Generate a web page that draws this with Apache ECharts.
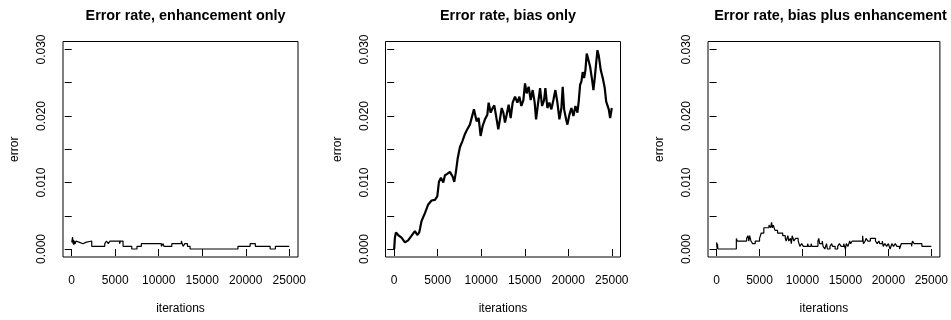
<!DOCTYPE html>
<html>
<head>
<meta charset="utf-8">
<script src="https://cdn.jsdelivr.net/npm/echarts@6/dist/echarts.min.js"></script>
<style>html,body{margin:0;padding:0;background:#fff}#c{width:951px;height:320px}</style>
</head>
<body>
<div id="c"></div>
<script>
const titles = ['Error rate, enhancement only', 'Error rate, bias only', 'Error rate, bias plus enhancement'];
const xTicks = [0, 5000, 10000, 15000, 20000, 25000];
const yTicks = [0, 0.005, 0.010, 0.015, 0.020, 0.025, 0.030];
const yLabels = [0, 0.010, 0.020, 0.030];

const enhIter = [0,100,150,200,250,300,400,500,600,900,1300,1600,1800,2300,3800,4000,4200,4400,5500,5600,5900,6900,7500,8000,10300,10500,10600,11500,12600,12800,13000,13300,13600,19100,20500,21100,22800,23400,25000];
const enhErr  = [0.0010,0.0018,0.0008,0.0014,0.0006,0.0012,0.0008,0.0012,0.0010,0.0008,0.0010,0.0008,0.0012,0.0004,0.0008,0.0012,0.0008,0.0012,0.0008,0.0012,0.0004,0.0000,0.0004,0.0008,0.0004,0.0008,0.0004,0.0008,0.0012,0.0004,0.0008,0.0004,0.0000,0.0004,0.0008,0.0004,0.0000,0.0004,0.0004];

const biasIter = [0,80,200,460,840,1230,1600,2000,2380,2650,2880,3140,3530,3910,4290,4680,4950,5140,5370,5640,5830,6100,6400,6710,6900,7090,7290,7550,7860,8130,8400,8700,8900,9160,9470,9700,9930,10160,10430,10700,10850,11080,11310,11500,11770,11960,12150,12350,12540,12730,12920,13150,13380,13610,13880,14150,14380,14610,14840,15030,15220,15450,15680,15910,16140,16300,16490,16760,16990,17220,17370,17600,17830,18060,18290,18520,18750,18980,19210,19360,19520,19750,19900,20130,20360,20590,20820,21050,21200,21360,21510,21660,21820,21970,22120,22280,22510,22740,22890,23040,23200,23350,23500,23730,23960,24190,24350,24500,24650,24810,25000];
const biasErr  = [0.0000,0.0017,0.0025,0.0021,0.0017,0.0010,0.0013,0.0020,0.0027,0.0021,0.0025,0.0042,0.0054,0.0067,0.0073,0.0074,0.0079,0.0101,0.0107,0.0100,0.0111,0.0113,0.0116,0.0109,0.0101,0.0116,0.0136,0.0153,0.0163,0.0173,0.0180,0.0187,0.0190,0.0210,0.0192,0.0197,0.0170,0.0185,0.0195,0.0202,0.0220,0.0205,0.0212,0.0216,0.0195,0.0180,0.0195,0.0212,0.0205,0.0190,0.0202,0.0217,0.0197,0.0220,0.0229,0.0220,0.0229,0.0215,0.0224,0.0249,0.0234,0.0244,0.0224,0.0239,0.0220,0.0195,0.0215,0.0242,0.0215,0.0224,0.0242,0.0212,0.0220,0.0210,0.0224,0.0239,0.0220,0.0195,0.0212,0.0244,0.0210,0.0195,0.0187,0.0202,0.0212,0.0200,0.0215,0.0205,0.0222,0.0247,0.0252,0.0266,0.0257,0.0269,0.0294,0.0286,0.0274,0.0254,0.0239,0.0257,0.0279,0.0299,0.0291,0.0269,0.0257,0.0242,0.0222,0.0220,0.0210,0.0197,0.0212];

const bothIter = [0,60,100,150,2300,2400,3500,3650,3750,3850,4000,4200,4500,5000,5200,5500,5700,6100,6300,6400,6500,6600,6800,7100,7700,8000,8100,8300,8400,8600,8700,8800,9000,9200,9500,9700,9900,10100,10600,10700,11000,11100,11800,11900,12000,12300,12400,12600,12800,12900,13200,13400,13500,13800,14100,14300,14500,14800,15000,15100,15300,15500,15600,15800,17000,17100,17300,17400,17600,17900,18500,18700,18900,19000,19300,19400,19600,19800,20000,20200,20400,20600,20800,21000,21300,21500,22700,22800,23000,23900,25000];
const bothErr  = [0.0010,0.0000,0.0008,0.0000,0.0016,0.0012,0.0016,0.0020,0.0012,0.0020,0.0012,0.0008,0.0012,0.0016,0.0024,0.0032,0.0032,0.0036,0.0032,0.0040,0.0032,0.0036,0.0028,0.0024,0.0020,0.0016,0.0012,0.0020,0.0012,0.0016,0.0008,0.0020,0.0012,0.0016,0.0012,0.0004,0.0008,0.0004,0.0008,0.0004,0.0008,0.0004,0.0012,0.0016,0.0008,0.0012,0.0004,0.0000,0.0008,0.0000,0.0004,0.0008,0.0004,0.0000,0.0004,0.0008,0.0004,0.0008,0.0000,0.0008,0.0004,0.0012,0.0008,0.0012,0.0020,0.0008,0.0012,0.0016,0.0012,0.0016,0.0012,0.0008,0.0012,0.0008,0.0012,0.0004,0.0008,0.0004,0.0008,0.0000,0.0008,0.0004,0.0008,0.0004,0.0000,0.0008,0.0004,0.0012,0.0008,0.0004,0.0004];

const zip = (a, b) => a.map((v, i) => [v, b[i]]);
const FONT = 'Liberation Sans, Arial, Helvetica, sans-serif';
const lefts = [63, 385.5, 708];
const boxW = 235, boxTop = 41.5, boxH = 218.5;

const chart = echarts.init(document.getElementById('c'), null, {renderer: 'canvas'});
const grids = [], xAxes = [], yAxes = [], tl = [];
lefts.forEach((l, i) => {
  grids.push({left: l, top: boxTop, width: boxW, height: boxH, show: true, borderColor: '#000', borderWidth: 1, backgroundColor: 'transparent'});
  xAxes.push({
    type: 'value', gridIndex: i, min: -1000, max: 26000,
    name: 'iterations', nameLocation: 'middle', nameGap: 46,
    nameTextStyle: {color: '#000', fontSize: 12, fontFamily: FONT},
    axisLine: {show: false},
    axisTick: {show: true, length: 7, customValues: xTicks, lineStyle: {color: '#000'}},
    axisLabel: {customValues: xTicks, color: '#000', fontSize: 12, fontFamily: FONT, margin: 18,
      formatter: v => String(v)},
    splitLine: {show: false}
  });
  yAxes.push({
    type: 'value', gridIndex: i, min: -0.0012, max: 0.0312,
    name: 'error', nameLocation: 'middle', nameGap: 42, nameRotate: 90,
    nameTextStyle: {color: '#000', fontSize: 12, fontFamily: FONT},
    axisLine: {show: false},
    axisTick: {show: true, length: 7, customValues: yTicks, lineStyle: {color: '#000'}},
    axisLabel: {customValues: yLabels, rotate: 90, color: '#000', fontSize: 12, fontFamily: FONT, margin: 15,
      formatter: v => v.toFixed(3)},
    splitLine: {show: false}
  });
  tl.push({text: titles[i], left: l + boxW / 2, top: 4, textAlign: 'center',
    textStyle: {fontSize: 14.4, fontWeight: 'bold', color: '#000', fontFamily: FONT}});
});

chart.setOption({
  animation: false,
  backgroundColor: '#fff',
  title: tl,
  grid: grids,
  xAxis: xAxes,
  yAxis: yAxes,
  series: [
    {type: 'line', xAxisIndex: 0, yAxisIndex: 0, data: zip(enhIter, enhErr), step: 'end', showSymbol: false, lineStyle: {color: '#000', width: 1.2}},
    {type: 'line', xAxisIndex: 1, yAxisIndex: 1, data: zip(biasIter, biasErr), showSymbol: false, lineStyle: {color: '#000', width: 2.2}},
    {type: 'line', xAxisIndex: 2, yAxisIndex: 2, data: zip(bothIter, bothErr), step: 'end', showSymbol: false, lineStyle: {color: '#000', width: 1.2}}
  ]
});
</script>
</body>
</html>
